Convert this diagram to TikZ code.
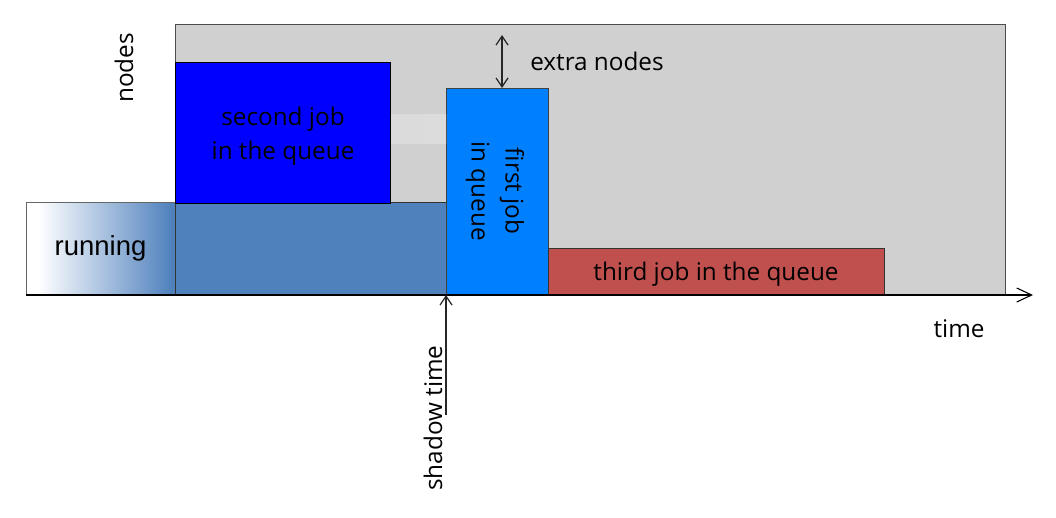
\documentclass[tikz,border=0pt]{standalone}
\usepackage{fontspec}
\setmainfont{Open Sans}
\newfontfamily\arialfont{Liberation Sans}
\usetikzlibrary{arrows.meta}
\definecolor{bggray}{RGB}{208,208,208}
\definecolor{steel}{RGB}{79,129,189}
\definecolor{jobblue}{RGB}{0,0,255}
\definecolor{firstblue}{RGB}{0,128,255}
\definecolor{thirdred}{RGB}{192,80,77}
\definecolor{bandgray}{RGB}{220,220,220}
\begin{document}
\begin{tikzpicture}[x=1pt,y=-1pt,
  box/.style={draw=black!80,line width=0.8pt,inner sep=0pt,outer sep=0pt,anchor=north west},
  lbl/.style={font=\fontsize{24.3}{34}\selectfont,text=black,align=center,inner sep=0pt},
  barb/.style={line width=1.2pt,draw=black!85},
  ]
\useasboundingbox (0,0) rectangle (1056,517);
% background gray area
\node[box,fill=bggray,draw=black!70,minimum width=830pt,minimum height=271pt] (bg) at (175,24) {};
% running job with gradient
\fill[white] (26,202) rectangle (175,295);
\shade[left color=white,right color=steel] (38,202) rectangle (172,295);
\fill[steel] (171,202) rectangle (175,295);
\node[box,draw=black!60,minimum width=149pt,minimum height=93pt,
  font=\arialfont\fontsize{27.5}{30}\selectfont] (run) at (26,202) {running};
% steel blue continuation
\node[box,fill=steel,minimum width=271pt,minimum height=93pt] (cont) at (175,202) {};
% second job
\node[box,fill=jobblue,draw=black,minimum width=215pt,minimum height=141pt] (sj) at (175,62) {};
\node[lbl] (sjl) at (283,136) {second job\\in the queue};
% first job
\node[box,fill=firstblue,draw=black!75,minimum width=102pt,minimum height=207pt] (fj) at (446,88) {};
\node[lbl,rotate=-90] (fjl) at (495,191) {first job\\in queue};
% faint band
\shade[left color=bandgray!90!bggray,right color=bandgray] (391,114) rectangle (446,143);
% third job
\node[box,fill=thirdred,draw=black!80,minimum width=336pt,minimum height=47pt] (tj) at (548,248) {};
\node[lbl] (tjl) at (716,274) {third job in the queue};
% axis
\coordinate (tend) at (1033,295);
\draw[line width=1.1pt,-{Straight Barb[length=15pt,width=14pt]}] (run.south west) -- (tend);
% extra nodes arrow
\coordinate (en) at (502,35);
\draw[barb,{Straight Barb[length=9pt,width=12pt]}-{Straight Barb[length=9pt,width=12pt]}] (en) -- (en |- fj.north);
% shadow time arrow
\coordinate (st) at (446,415);
\draw[barb,-{Straight Barb[length=9pt,width=12pt]}] (st) -- (fj.south west);
% labels
\node[lbl,rotate=90] (nodesl) at (124,68) {nodes};
\node[lbl] (enl) at (597,61) {extra nodes};
\node[lbl] (timel) at (959,329) {time};
\node[lbl,rotate=90] (stl) at (433,418) {shadow time};
\end{tikzpicture}
\end{document}
